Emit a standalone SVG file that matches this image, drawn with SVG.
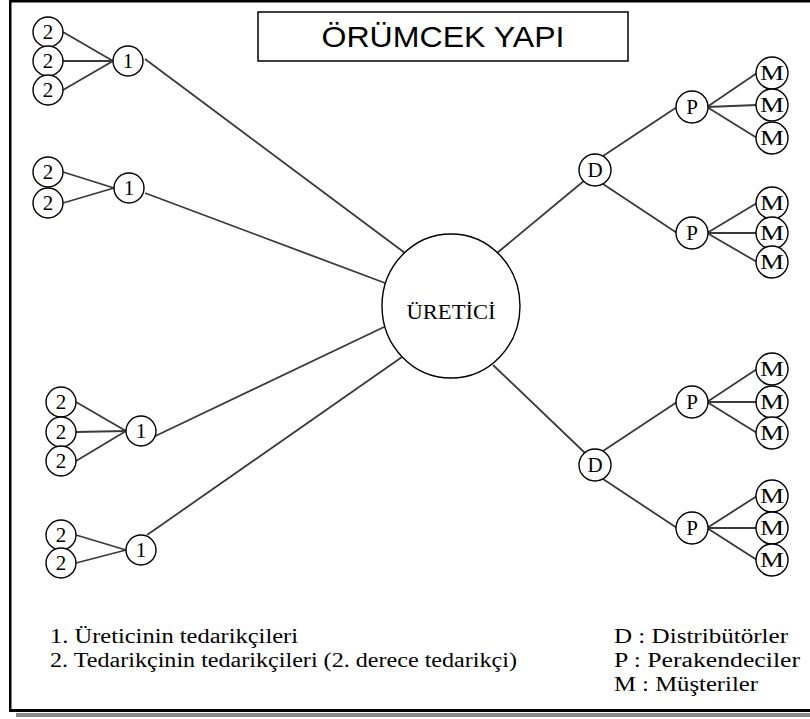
<svg xmlns="http://www.w3.org/2000/svg" width="810" height="719" viewBox="0 0 810 719">
  <style>
    .node { fill: #ffffff; stroke: #000000; stroke-width: 1.4; }
    .lbl { font-size: 21px; fill: #000000; text-anchor: middle; }
    .edge { stroke: #3a3a3a; stroke-width: 1.8; fill: none; }
    .legend { font-size: 20px; fill: #000000; }
  </style>

  <!-- page frame -->
  <rect x="0" y="0" width="810" height="719" fill="#ffffff"/>
  <rect x="9" y="0" width="801" height="2.5" fill="#000000"/>
  <rect x="9" y="0" width="2.5" height="712" fill="#000000"/>
  <rect x="9" y="709" width="801" height="3" fill="#000000"/>
  <rect x="16" y="713" width="794" height="4" fill="#8a8a8a"/>

  <!-- title -->
  <g id="title">
    <rect x="258" y="12" width="370" height="49" fill="#ffffff" stroke="#000000" stroke-width="1.5"/>
    <text x="443" y="47" font-family="Liberation Sans, Arial, sans-serif" font-size="30" text-anchor="middle" textLength="243" lengthAdjust="spacingAndGlyphs">ÖRÜMCEK YAPI</text>
  </g>

  <!-- connectors -->
  <g id="connectors" class="edge">
    <!-- suppliers group A -->
    <line x1="63" y1="32" x2="113" y2="61"/>
    <line x1="63" y1="61" x2="113" y2="61"/>
    <line x1="63" y1="90" x2="113" y2="61"/>
    <line x1="145" y1="59" x2="405" y2="253"/>
    <!-- suppliers group B -->
    <line x1="63" y1="172" x2="114" y2="188"/>
    <line x1="63" y1="203" x2="114" y2="188"/>
    <line x1="145" y1="193" x2="385" y2="283"/>
    <!-- suppliers group C -->
    <line x1="76" y1="402" x2="126" y2="431"/>
    <line x1="76" y1="432" x2="126" y2="431"/>
    <line x1="76" y1="461" x2="126" y2="431"/>
    <line x1="147" y1="440" x2="384" y2="327"/>
    <!-- suppliers group D -->
    <line x1="76" y1="535" x2="126" y2="550"/>
    <line x1="76" y1="563" x2="126" y2="550"/>
    <line x1="147" y1="535" x2="402" y2="357"/>
    <!-- upper distribution branch -->
    <line x1="497" y1="253" x2="585" y2="180"/>
    <line x1="603" y1="156" x2="677" y2="107"/>
    <line x1="603" y1="184" x2="677" y2="233"/>
    <line x1="707" y1="107" x2="757" y2="73"/>
    <line x1="707" y1="107" x2="757" y2="105"/>
    <line x1="707" y1="107" x2="757" y2="138"/>
    <line x1="707" y1="233" x2="757" y2="203"/>
    <line x1="707" y1="233" x2="757" y2="233"/>
    <line x1="707" y1="233" x2="757" y2="262"/>
    <!-- lower distribution branch -->
    <line x1="493" y1="365" x2="585" y2="453"/>
    <line x1="603" y1="451" x2="677" y2="402"/>
    <line x1="603" y1="479" x2="677" y2="528"/>
    <line x1="707" y1="402" x2="757" y2="369"/>
    <line x1="707" y1="402" x2="757" y2="402"/>
    <line x1="707" y1="402" x2="757" y2="433"/>
    <line x1="707" y1="528" x2="757" y2="496"/>
    <line x1="707" y1="528" x2="757" y2="528"/>
    <line x1="707" y1="528" x2="757" y2="560"/>
  </g>

  <g font-family="Liberation Serif, serif">
  <!-- producer -->
  <g id="uretici">
    <ellipse class="node" cx="451" cy="306" rx="69" ry="72"/>
    <text x="451" y="319" font-size="22" text-anchor="middle" textLength="89" lengthAdjust="spacingAndGlyphs">ÜRETİCİ</text>
  </g>

  <!-- first tier suppliers -->
  <g id="t1-a"><circle class="node" cx="128" cy="61" r="15"/><text class="lbl" x="128" y="68">1</text></g>
  <g id="t1-b"><circle class="node" cx="129" cy="188" r="15"/><text class="lbl" x="129" y="195">1</text></g>
  <g id="t1-c"><circle class="node" cx="141" cy="431" r="15"/><text class="lbl" x="141" y="438">1</text></g>
  <g id="t1-d"><circle class="node" cx="141" cy="550" r="15"/><text class="lbl" x="141" y="557">1</text></g>

  <!-- second tier suppliers -->
  <g id="t2-a1"><circle class="node" cx="48" cy="32" r="15"/><text class="lbl" x="48" y="39">2</text></g>
  <g id="t2-a2"><circle class="node" cx="48" cy="61" r="15"/><text class="lbl" x="48" y="68">2</text></g>
  <g id="t2-a3"><circle class="node" cx="48" cy="90" r="15"/><text class="lbl" x="48" y="97">2</text></g>
  <g id="t2-b1"><circle class="node" cx="48" cy="172" r="15"/><text class="lbl" x="48" y="179">2</text></g>
  <g id="t2-b2"><circle class="node" cx="48" cy="203" r="15"/><text class="lbl" x="48" y="210">2</text></g>
  <g id="t2-c1"><circle class="node" cx="61" cy="402" r="15"/><text class="lbl" x="61" y="409">2</text></g>
  <g id="t2-c2"><circle class="node" cx="61" cy="432" r="15"/><text class="lbl" x="61" y="439">2</text></g>
  <g id="t2-c3"><circle class="node" cx="61" cy="461" r="15"/><text class="lbl" x="61" y="468">2</text></g>
  <g id="t2-d1"><circle class="node" cx="61" cy="535" r="15"/><text class="lbl" x="61" y="542">2</text></g>
  <g id="t2-d2"><circle class="node" cx="61" cy="563" r="15"/><text class="lbl" x="61" y="570">2</text></g>

  <!-- distributors -->
  <g id="d-1"><circle class="node" cx="595" cy="170" r="16"/><text class="lbl" x="595" y="177">D</text></g>
  <g id="d-2"><circle class="node" cx="595" cy="465" r="16"/><text class="lbl" x="595" y="472">D</text></g>

  <!-- retailers -->
  <g id="p-1"><circle class="node" cx="692" cy="107" r="16"/><text class="lbl" x="692" y="114">P</text></g>
  <g id="p-2"><circle class="node" cx="692" cy="233" r="16"/><text class="lbl" x="692" y="240">P</text></g>
  <g id="p-3"><circle class="node" cx="692" cy="402" r="16"/><text class="lbl" x="692" y="409">P</text></g>
  <g id="p-4"><circle class="node" cx="692" cy="528" r="16"/><text class="lbl" x="692" y="535">P</text></g>

  <!-- customers -->
  <g id="m-1"><circle class="node" cx="772" cy="73" r="16"/><text class="lbl" x="772" y="80" textLength="24" lengthAdjust="spacingAndGlyphs">M</text></g>
  <g id="m-2"><circle class="node" cx="772" cy="105" r="16"/><text class="lbl" x="772" y="112" textLength="24" lengthAdjust="spacingAndGlyphs">M</text></g>
  <g id="m-3"><circle class="node" cx="772" cy="138" r="16"/><text class="lbl" x="772" y="145" textLength="24" lengthAdjust="spacingAndGlyphs">M</text></g>
  <g id="m-4"><circle class="node" cx="772" cy="203" r="16"/><text class="lbl" x="772" y="210" textLength="24" lengthAdjust="spacingAndGlyphs">M</text></g>
  <g id="m-5"><circle class="node" cx="772" cy="233" r="16"/><text class="lbl" x="772" y="240" textLength="24" lengthAdjust="spacingAndGlyphs">M</text></g>
  <g id="m-6"><circle class="node" cx="772" cy="262" r="16"/><text class="lbl" x="772" y="269" textLength="24" lengthAdjust="spacingAndGlyphs">M</text></g>
  <g id="m-7"><circle class="node" cx="772" cy="369" r="16"/><text class="lbl" x="772" y="376" textLength="24" lengthAdjust="spacingAndGlyphs">M</text></g>
  <g id="m-8"><circle class="node" cx="772" cy="402" r="16"/><text class="lbl" x="772" y="409" textLength="24" lengthAdjust="spacingAndGlyphs">M</text></g>
  <g id="m-9"><circle class="node" cx="772" cy="433" r="16"/><text class="lbl" x="772" y="440" textLength="24" lengthAdjust="spacingAndGlyphs">M</text></g>
  <g id="m-10"><circle class="node" cx="772" cy="496" r="16"/><text class="lbl" x="772" y="503" textLength="24" lengthAdjust="spacingAndGlyphs">M</text></g>
  <g id="m-11"><circle class="node" cx="772" cy="528" r="16"/><text class="lbl" x="772" y="535" textLength="24" lengthAdjust="spacingAndGlyphs">M</text></g>
  <g id="m-12"><circle class="node" cx="772" cy="560" r="16"/><text class="lbl" x="772" y="567" textLength="24" lengthAdjust="spacingAndGlyphs">M</text></g>

  <!-- legend -->
  <g id="legend" class="legend">
    <text x="50" y="643" textLength="248" lengthAdjust="spacingAndGlyphs">1. Üreticinin tedarikçileri</text>
    <text x="50" y="667" textLength="467" lengthAdjust="spacingAndGlyphs">2. Tedarikçinin tedarikçileri (2. derece tedarikçi)</text>
    <text x="614" y="643" textLength="174" lengthAdjust="spacingAndGlyphs">D  : Distribütörler</text>
    <text x="614" y="667" textLength="186" lengthAdjust="spacingAndGlyphs">P   : Perakendeciler</text>
    <text x="614" y="691" textLength="144" lengthAdjust="spacingAndGlyphs">M : Müşteriler</text>
  </g>
  </g>
</svg>
